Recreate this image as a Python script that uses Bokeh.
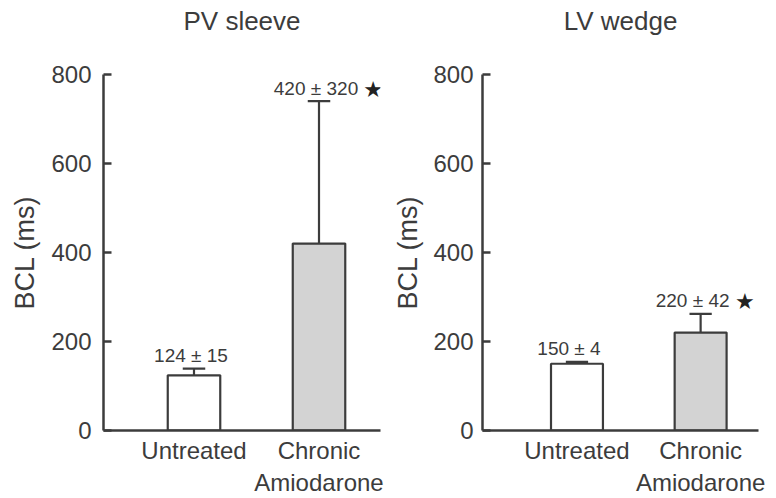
from bokeh.plotting import figure
from bokeh.layouts import row
from bokeh.models import Range1d, FixedTicker, ColumnDataSource, Title
from bokeh.core.properties import value
from bokeh.embed import file_html
from bokeh.resources import INLINE

# ---- data ----
categories = ["Untreated", "Chronic\nAmiodarone"]
pv_mean = [124, 420]
pv_sem = [15, 320]
lv_mean = [150, 220]
lv_sem = [4, 42]
significant = [False, True]
y_ticks = [0, 200, 400, 600, 800]
titles = ["PV sleeve", "LV wedge"]
y_label = "BCL (ms)"
bar_fills = ["#ffffff", "#d3d3d3"]

FONT = "Liberation Sans"
INK = "#3c3c3c"


def panel(title, means, sems, width, border_left, border_right, x_start, x_end,
          label_dx, tick_standoff, label_standoff, title_dx):
    p = figure(width=width, height=498, output_backend="svg", toolbar_location=None,
               x_range=Range1d(x_start, x_end), y_range=Range1d(0, 800),
               min_border_left=border_left, min_border_right=border_right,
               min_border_top=74, min_border_bottom=65)
    p.outline_line_color = None
    p.grid.visible = False
    p.background_fill_color = "white"
    p.border_fill_color = "white"

    # spacer between frame and title, then the title itself
    p.add_layout(Title(text=" ", text_font_size="1px", standoff=36), "above")
    p.add_layout(Title(text=title, align="center", standoff=0, offset=title_dx,
                       text_font=FONT, text_font_size="26px", text_font_style="normal",
                       text_color=INK), "above")

    xs = list(range(len(means)))
    tops = [m + s for m, s in zip(means, sems)]
    src = ColumnDataSource(dict(x=xs, mean=means, top=tops, fill=bar_fills,
                                xl=[x - 0.09 for x in xs], xr=[x + 0.09 for x in xs]))
    p.segment(x0="x", y0="mean", x1="x", y1="top", source=src, line_color=INK, line_width=2.2)
    p.segment(x0="xl", y0="top", x1="xr", y1="top", source=src, line_color=INK, line_width=2.2)
    p.vbar(x="x", top="mean", bottom=0, width=0.42, source=src,
           fill_color="fill", line_color=INK, line_width=2.2)

    texts = [f"{m} \u00b1 {s}" for m, s in zip(means, sems)]
    p.text(x=[x for x in xs], y=tops, text=texts, text_align="center",
           text_baseline="alphabetic", y_offset=-13, x_offset=label_dx,
           text_font=value(FONT), text_font_size="19px", text_color=INK)
    star_x = [x for x, s in zip(xs, significant) if s]
    star_y = [t for t, s in zip(tops, significant) if s]
    star_off = [len(texts[i]) * 4.8 + 4 + label_dx for i, s in enumerate(significant) if s]
    for sx, sy, so in zip(star_x, star_y, star_off):
        p.text(x=[sx], y=[sy], text=["\u2605"], text_align="left",
               text_baseline="alphabetic", y_offset=-12, x_offset=so,
               text_font=value("DejaVu Sans"), text_font_size="22px", text_color="#222222")

    ya = p.yaxis[0]
    ya.ticker = FixedTicker(ticks=y_ticks)
    ya.axis_label = y_label
    ya.axis_label_text_font = FONT
    ya.axis_label_text_font_size = "27px"
    ya.axis_label_text_font_style = "normal"
    ya.axis_label_text_color = INK
    ya.axis_label_standoff = label_standoff
    ya.major_label_text_font = FONT
    ya.major_label_text_font_size = "24px"
    ya.major_label_text_color = INK
    ya.major_label_standoff = tick_standoff
    ya.major_tick_in = 8
    ya.major_tick_out = 0
    ya.minor_tick_line_color = None
    ya.axis_line_width = 2.5
    ya.axis_line_color = INK
    ya.major_tick_line_width = 2.5
    ya.major_tick_line_color = INK

    xa = p.xaxis[0]
    xa.ticker = FixedTicker(ticks=xs)
    xa.major_label_overrides = {i: c for i, c in enumerate(categories)}
    xa.major_label_text_font = FONT
    xa.major_label_text_font_size = "24px"
    xa.major_label_text_color = INK
    xa.major_label_text_line_height = 1.2
    xa.major_label_standoff = 6
    xa.major_tick_in = 0
    xa.major_tick_out = 0
    xa.minor_tick_line_color = None
    xa.axis_line_width = 2.5
    xa.axis_line_color = INK
    return p


p1 = panel(titles[0], pv_mean, pv_sem, 390, 103, 10, -0.724, 1.492, -3, 12, 8, 3)
p2 = panel(titles[1], lv_mean, lv_sem, 386, 89, 18, -0.764, 1.468, -8, 9, 7, 6)

layout = row(p1, p2)
open("out.html", "w").write(file_html(layout, INLINE))
